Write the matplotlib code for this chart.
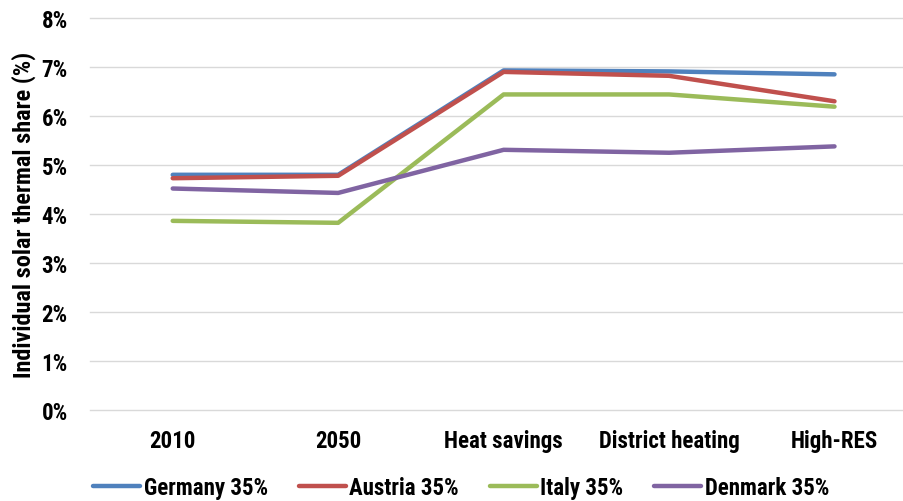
import matplotlib
matplotlib.use("Agg")
import matplotlib.pyplot as plt
from matplotlib.ticker import MultipleLocator, FuncFormatter

plt.rcParams['font.family'] = ['Roboto Condensed', 'Roboto', 'DejaVu Sans']

categories = ["2010", "2050", "Heat savings", "District heating", "High-RES"]
germany = [4.80, 4.80, 6.93, 6.91, 6.85]
austria = [4.73, 4.78, 6.90, 6.82, 6.30]
italy = [3.86, 3.82, 6.44, 6.44, 6.19]
denmark = [4.52, 4.43, 5.31, 5.25, 5.38]

series = [
    ("Germany 35%", germany, "#4F81BD"),
    ("Austria 35%", austria, "#C0504D"),
    ("Italy 35%", italy, "#9BBB59"),
    ("Denmark 35%", denmark, "#8064A2"),
]

fig = plt.figure(figsize=(9.04, 5.02), dpi=100)
ax = fig.add_axes([90 / 904, 1 - 411 / 502, 814 / 904, 392 / 502])

x = list(range(len(categories)))
for name, vals, col in series:
    ax.plot(x, vals, color=col, linewidth=3.2, label=name, solid_capstyle='round')

ax.set_ylim(0, 8)
ax.set_xlim(-0.5, 4.42)
ax.yaxis.set_major_locator(MultipleLocator(1))
ax.yaxis.set_major_formatter(FuncFormatter(lambda v, p: "%d%%" % v))
ax.set_xticks(x)
ax.set_xticklabels(categories)
ax.grid(axis='y', color='#D9D9D9', linewidth=1)
for gl in ax.get_ygridlines():
    gl.set_clip_on(False)
ax.set_axisbelow(True)
for s in ax.spines.values():
    s.set_visible(False)
ax.tick_params(length=0, labelsize=16.5)
ax.tick_params(axis='y', pad=16)
ax.tick_params(axis='x', pad=14)
for lbl in ax.get_xticklabels() + ax.get_yticklabels():
    lbl.set_fontweight('bold')
ax.set_ylabel("Individual solar thermal share (%)", fontsize=17.5, fontweight='bold', labelpad=4)

leg = fig.legend(loc='center', bbox_to_anchor=(0.51, 1 - 489 / 502), ncol=4, frameon=False,
                 prop={'size': 16.5, 'weight': 'bold'}, handlelength=2.05, columnspacing=1.35,
                 handletextpad=0.15)

fig.savefig("out.png", dpi=100)
